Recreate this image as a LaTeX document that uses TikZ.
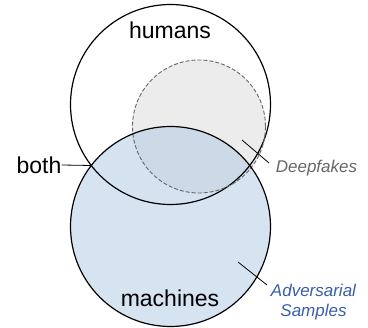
\documentclass[tikz,border=0pt]{standalone}
\usepackage{fontspec}
\setmainfont{Liberation Sans}
\definecolor{fakefill}{HTML}{ECECEC}
\definecolor{machinefill}{HTML}{ADC7E1}
\definecolor{fakegray}{HTML}{666666}
\definecolor{advblue}{HTML}{3A5DAA}

\begin{document}
\begin{tikzpicture}[x=1pt,y=-1pt,
  setname/.style={inner sep=0pt,font=\fontsize{23}{27}\selectfont},
  casename/.style={inner sep=0pt,align=center,font=\fontsize{17}{20.7}\selectfont\itshape},
  ring/.style={line width=1.2pt},
  fakering/.style={draw=black!60,line width=0.9pt,dash pattern=on 4pt off 2pt}]
\useasboundingbox (0,0) rectangle (368,328);

\coordinate (humans) at (170.5,104.5);
\coordinate (fakes) at (199,126.5);
\coordinate (machines) at (170.5,226.5);

\fill [white] (humans) circle (100pt);
\fill [fakefill] (fakes) circle (66.5pt);
\fill [machinefill,fill opacity=0.5] (machines) circle (100pt);
\draw [ring] (humans) circle (100pt);
\draw [fakering] (fakes) circle (66.5pt);
\draw [ring] (machines) circle (100pt);

\node [setname] (humans-lbl) at (170,30) {humans};
\node [setname] (machines-lbl) at (170,298.5) {machines};
\node [setname] (both-lbl) at (39,165) {both};
\node [casename,text=fakegray] (fakes-lbl) at (316.5,168) {Deepfakes};
\node [casename,text=advblue] (adv-lbl) at (313.5,302) {Adversarial\\Samples};

\coordinate (both-pt) at (91.3,165.5);
\coordinate (fakes-in) at (242,140);
\coordinate (fakes-out) at (269,163);
\coordinate (adv-in) at (238,262);
\coordinate (adv-out) at (267,285);

\draw [line width=0.8pt] (both-lbl.east) -- (both-pt);
\draw [line width=0.8pt] (fakes-in) -- (fakes-out);
\draw [line width=0.8pt] (adv-in) -- (adv-out);

\end{tikzpicture}
\end{document}
